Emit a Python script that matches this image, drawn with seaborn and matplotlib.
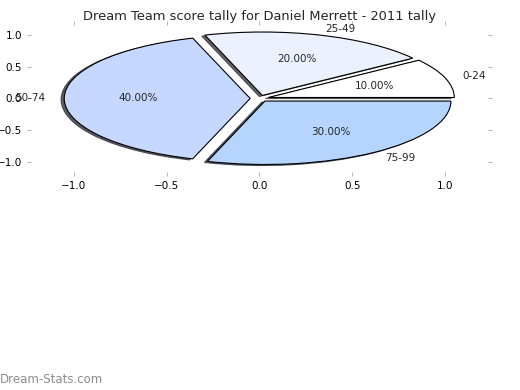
import matplotlib
matplotlib.use("Agg")
import matplotlib.pyplot as plt
import seaborn as sns

# score bands and share of games in each band
bands = ["0-24", "25-49", "50-74", "75-99"]
shares = [10, 20, 40, 30]
slice_colors = ["#ffffff", "#ebf1ff", "#c6d8ff", "#b5d5ff"]
axis_ticks = [-1.0, -0.5, 0.0, 0.5, 1.0]

sns.set_style("white")
plt.rcParams['font.family'] = ['DejaVu Sans']

fig = plt.figure(figsize=(5.2, 3.9), dpi=100)
ax = fig.add_axes([0.052, 0.549, 0.894, 0.397])

wedges, texts, autotexts = ax.pie(
    shares,
    labels=bands,
    colors=slice_colors,
    explode=[0.05] * len(shares),
    autopct='%.2f%%',
    shadow={'ox': -0.012, 'oy': -0.012, 'shade': 0.75, 'alpha': 0.8},
    frame=True,
    wedgeprops={'edgecolor': 'black', 'linewidth': 0.8},
    textprops={'fontsize': 7.5},
)

ax.set_aspect('auto')
ax.set_xlim(-1.25, 1.25)
ax.set_ylim(-1.22, 1.22)
ax.set_xticks(axis_ticks)
ax.set_yticks(axis_ticks)
ax.tick_params(direction='in', length=3, width=0.6, color='#aaaaaa',
               labelsize=7.5, labelcolor='black',
               top=True, right=True, left=True, bottom=True)
for s in ax.spines.values():
    s.set_visible(False)

ax.set_title('Dream Team score tally for Daniel Merrett - 2011 tally',
             fontsize=9.4, pad=1)

fig.text(0.0, 0.01, 'Dream-Stats.com', color='#8c8c8c', fontsize=8.5,
         ha='left', va='bottom')

fig.savefig('out.png', dpi=100)
